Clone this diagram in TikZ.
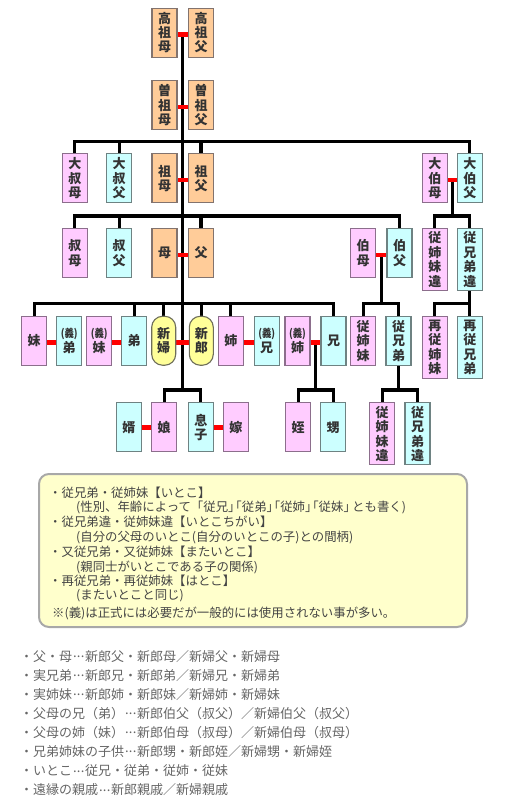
\documentclass[tikz,border=0pt]{standalone}
\usepackage{fontspec}
\usepackage{graphicx}
\newfontfamily\cjk{Noto Sans CJK JP}
\usetikzlibrary{backgrounds,calc}
\definecolor{pinkf}{HTML}{FFCCFF}
\definecolor{pinkd}{HTML}{8C6E8C}
\definecolor{cyanf}{HTML}{CCFFFF}
\definecolor{cyand}{HTML}{6E8282}
\definecolor{orgf}{HTML}{FFCC99}
\definecolor{orgd}{HTML}{82736E}
\definecolor{yelf}{HTML}{FFFF99}
\definecolor{yeld}{HTML}{6E6E5A}
\definecolor{notef}{HTML}{FFFFCC}
\definecolor{noted}{HTML}{A8A8A8}
\definecolor{boxtext}{HTML}{333333}
\definecolor{notetext}{HTML}{444444}
\definecolor{listtext}{HTML}{666666}
\definecolor{linkred}{HTML}{FF0000}
\newcommand\gi{{\fontsize{11}{11}\selectfont\scalebox{0.85}[1]{(義)}}}
\newcommand\mdots{\makebox[1em]{\raisebox{0.3em}{.\kern0.02em.\kern0.02em.}}}
\newcommand\rlink[3]{\draw[redlink] ($(#1.east)+(0,#3)$) -- ($(#2.west)+(0,#3)$);}
\tikzset{
  relbox/.style={anchor=north, minimum width=25pt, minimum height=49pt, inner sep=0pt,
    line width=1.1pt, align=center, text=boxtext,
    font=\cjk\bfseries\fontsize{13}{14.4}\selectfont},
  tall/.style={minimum height=62pt},
  pinkbox/.style={relbox, fill=pinkf, draw=pinkd},
  cyanbox/.style={relbox, fill=cyanf, draw=cyand},
  orgbox/.style={relbox, fill=orgf, draw=orgd},
  yelbox/.style={relbox, fill=yelf, draw=yeld, rounded corners=11pt, minimum width=24pt},
  blk/.style={line width=3.2pt, black},
  redlink/.style={line width=4.6pt, linkred},
  notebox/.style={draw=noted, fill=notef, line width=2pt, rounded corners=10pt,
    minimum width=428pt, minimum height=153pt, inner sep=0pt},
  noteline/.style={anchor=base west, inner sep=0pt, text=notetext,
    font=\cjk\fontsize{12.4}{12.4}\selectfont},
  listline/.style={anchor=base west, inner sep=0pt, text=listtext,
    font=\cjk\fontsize{13}{13}\selectfont},
}
\begin{document}
\begin{tikzpicture}[x=1pt,y=-1pt]
\useasboundingbox (0,0) rectangle (504,806);
% row 1
\node[orgbox] (kosobo) at (164.5,7.5) {高\\祖\\母};
\node[orgbox] (kosofu) at (201,7.5) {高\\祖\\父};
% row 2
\node[orgbox] (hisobo) at (164.5,80) {曽\\祖\\母};
\node[orgbox] (hisofu) at (201,80) {曽\\祖\\父};
% row 3
\node[pinkbox] (ooshukubo) at (74.8,153.3) {大\\叔\\母};
\node[cyanbox] (ooshukufu) at (119.2,153.3) {大\\叔\\父};
\node[orgbox] (sobo) at (164.5,153.3) {祖\\母};
\node[orgbox] (sofu) at (201,153.3) {祖\\父};
\node[pinkbox] (oohakubo) at (434.8,153.3) {大\\伯\\母};
\node[cyanbox] (oohakufu) at (469.8,153.3) {大\\伯\\父};
% row 4
\node[pinkbox] (shukubo) at (74.8,228) {叔\\母};
\node[cyanbox] (shukufu) at (119.2,228) {叔\\父};
\node[orgbox] (haha) at (164.5,228) {母};
\node[orgbox] (chichi) at (201,228) {父};
\node[pinkbox] (hakubo) at (363.2,228) {伯\\母};
\node[cyanbox] (hakufu) at (399.5,228) {伯\\父};
\node[pinkbox,tall] (ichigaiA) at (434.8,228) {従\\姉\\妹\\違};
\node[cyanbox,tall] (ichigaiB) at (469.8,228) {従\\兄\\弟\\違};
% row 5
\node[pinkbox] (imouto) at (34.2,315.7) {妹};
\node[cyanbox] (giotouto) at (69.2,315.7) {\gi\\弟};
\node[pinkbox] (giimouto) at (99.2,315.7) {\gi\\妹};
\node[cyanbox] (otouto) at (134.2,315.7) {弟};
\node[yelbox] (shinpu) at (163.7,315.7) {新\\婦};
\node[yelbox] (shinro) at (201.3,315.7) {新\\郎};
\node[pinkbox] (ane) at (230.8,315.7) {姉};
\node[cyanbox] (giani) at (266.7,315.7) {\gi\\兄};
\node[pinkbox] (giane) at (297.5,315.7) {\gi\\姉};
\node[cyanbox] (ani) at (333.5,315.7) {兄};
\node[pinkbox] (itokoF) at (363.2,315.7) {従\\姉\\妹};
\node[cyanbox] (itokoM) at (398.5,315.7) {従\\兄\\弟};
\node[pinkbox,tall] (hatokoF) at (434.8,315.7) {再\\従\\姉\\妹};
\node[cyanbox,tall] (hatokoM) at (469.8,315.7) {再\\従\\兄\\弟};
% row 6
\node[cyanbox] (muko) at (128.8,402.3) {婿};
\node[pinkbox] (musume) at (164.2,402.3) {娘};
\node[cyanbox] (musuko) at (200.8,402.3) {息\\子};
\node[pinkbox] (yome) at (235.8,402.3) {嫁};
\node[pinkbox] (mei) at (298.2,402.3) {姪};
\node[cyanbox] (oi) at (333.2,402.3) {甥};
\node[pinkbox,tall] (ichigaiC) at (382.2,402.3) {従\\姉\\妹\\違};
\node[cyanbox,tall] (ichigaiD) at (417.5,402.3) {従\\兄\\弟\\違};
% bus levels
\coordinate (bus3) at (0,141.7);
\coordinate (bus4) at (0,216);
\coordinate (bus5) at (0,303.3);
\coordinate (bus6) at (0,390);
\coordinate (mTop) at ($(kosobo.east)!0.5!(kosofu.west)+(0,1.8)$);
\coordinate (mOH) at ($(oohakubo.east)!0.5!(oohakufu.west)+(0,1.8)$);
\coordinate (mH) at ($(hakubo.east)!0.5!(hakufu.west)+(0,1.8)$);
\coordinate (mGi) at ($(giane.east)!0.5!(ani.west)+(0,1.8)$);
\begin{scope}[on background layer]
  \draw[blk] (mTop) -- (mTop |- bus6);
  % row 3
  \draw[blk] (ooshukubo.north) -- (ooshukubo.north |- bus3) -- (oohakufu.north |- bus3) -- (oohakufu.north);
  \draw[blk] (ooshukufu.north) -- (ooshukufu.north |- bus3);
  \draw[blk] (sofu.north) -- (sofu.north |- bus3);
  % row 4
  \draw[blk] (shukubo.north) -- (shukubo.north |- bus4) -- (hakufu.north |- bus4) -- (hakufu.north);
  \draw[blk] (shukufu.north) -- (shukufu.north |- bus4);
  \draw[blk] (chichi.north) -- (chichi.north |- bus4);
  \draw[blk] (mOH) -- (mOH |- bus4);
  \draw[blk] (ichigaiA.north) -- (ichigaiA.north |- bus4) -- (ichigaiB.north |- bus4) -- (ichigaiB.north);
  % row 5
  \draw[blk] (imouto.north) -- (imouto.north |- bus5) -- (ani.north |- bus5) -- (ani.north);
  \draw[blk] (otouto.north) -- (otouto.north |- bus5);
  \draw[blk] (shinpu.north) -- (shinpu.north |- bus5);
  \draw[blk] (shinro.north) -- (shinro.north |- bus5);
  \draw[blk] (ane.north) -- (ane.north |- bus5);
  \draw[blk] (mH) -- (mH |- bus5);
  \draw[blk] (itokoF.north) -- (itokoF.north |- bus5) -- (itokoM.north |- bus5) -- (itokoM.north);
  \draw[blk] (ichigaiB.south) -- (ichigaiB.south |- bus5);
  \draw[blk] (hatokoF.north) -- (hatokoF.north |- bus5) -- (hatokoM.north |- bus5) -- (hatokoM.north);
  % row 6
  \draw[blk] (musume.north) -- (musume.north |- bus6) -- (musuko.north |- bus6) -- (musuko.north);
  \draw[blk] (mGi) -- (mGi |- bus6);
  \draw[blk] (mei.north) -- (mei.north |- bus6) -- (oi.north |- bus6) -- (oi.north);
  \draw[blk] (itokoM.south) -- (itokoM.south |- bus6);
  \draw[blk] (ichigaiC.north) -- (ichigaiC.north |- bus6) -- (ichigaiD.north |- bus6) -- (ichigaiD.north);
\end{scope}
\begin{scope}[on background layer]
  \rlink{kosobo}{kosofu}{1.8}
  \rlink{hisobo}{hisofu}{1.8}
  \rlink{sobo}{sofu}{1.8}
  \rlink{oohakubo}{oohakufu}{1.8}
  \rlink{haha}{chichi}{1.8}
  \rlink{hakubo}{hakufu}{1.8}
  \rlink{imouto}{giotouto}{1.8}
  \rlink{giimouto}{otouto}{1.8}
  \rlink{shinpu}{shinro}{1.8}
  \rlink{ane}{giani}{1.8}
  \rlink{giane}{ani}{1.8}
  \rlink{muko}{musume}{0.2}
  \rlink{musuko}{yome}{0.2}
\end{scope}
% note box
\node[notebox] (note) at (253,550.5) {};
\node[noteline] (n1) at (49,497.9) {・従兄弟・従姉妹【いとこ】};
\node[noteline] (n2) at (76,511.9) {(性別、年齢によって「従兄」\kern-0.9em「従弟」\kern-0.9em「従姉」\kern-0.9em「従妹」\kern-0.3emとも書く)};
\node[noteline] (n3) at (49,526.3) {・従兄弟違・従姉妹違【いとこちがい】};
\node[noteline] (n4) at (76,541.3) {(自分の父母のいとこ(自分のいとこの子)との間柄)};
\node[noteline] (n5) at (49,556.3) {・又従兄弟・又従姉妹【またいとこ】};
\node[noteline] (n6) at (76,571.3) {(親同士がいとこである子の関係)};
\node[noteline] (n7) at (49,585.6) {・再従兄弟・再従姉妹【はとこ】};
\node[noteline] (n8) at (76,599.6) {(またいとこと同じ)};
\node[noteline] (n9) at (52,617.3) {※(義)は正式には必要だが一般的には使用されない事が多い。};
% list
\node[listline] (l1) at (20,661.6) {・父・母\mdots 新郎父・新郎母／新婦父・新婦母};
\node[listline] (l2) at (20,680.6) {・実兄弟\mdots 新郎兄・新郎弟／新婦兄・新婦弟};
\node[listline] (l3) at (20,699.7) {・実姉妹\mdots 新郎姉・新郎妹／新婦姉・新婦妹};
\node[listline] (l4) at (20,718.7) {・父母の兄（弟）\mdots 新郎伯父（叔父）／新婦伯父（叔父）};
\node[listline] (l5) at (20,737.8) {・父母の姉（妹）\mdots 新郎伯母（叔母）／新婦伯母（叔母）};
\node[listline] (l6) at (20,756.8) {・兄弟姉妹の子供\mdots 新郎甥・新郎姪／新婦甥・新婦姪};
\node[listline] (l7) at (20,775.9) {・いとこ\mdots 従兄・従弟・従姉・従妹};
\node[listline] (l8) at (20,794.9) {・遠縁の親戚\mdots 新郎親戚／新婦親戚};
\end{tikzpicture}
\end{document}
